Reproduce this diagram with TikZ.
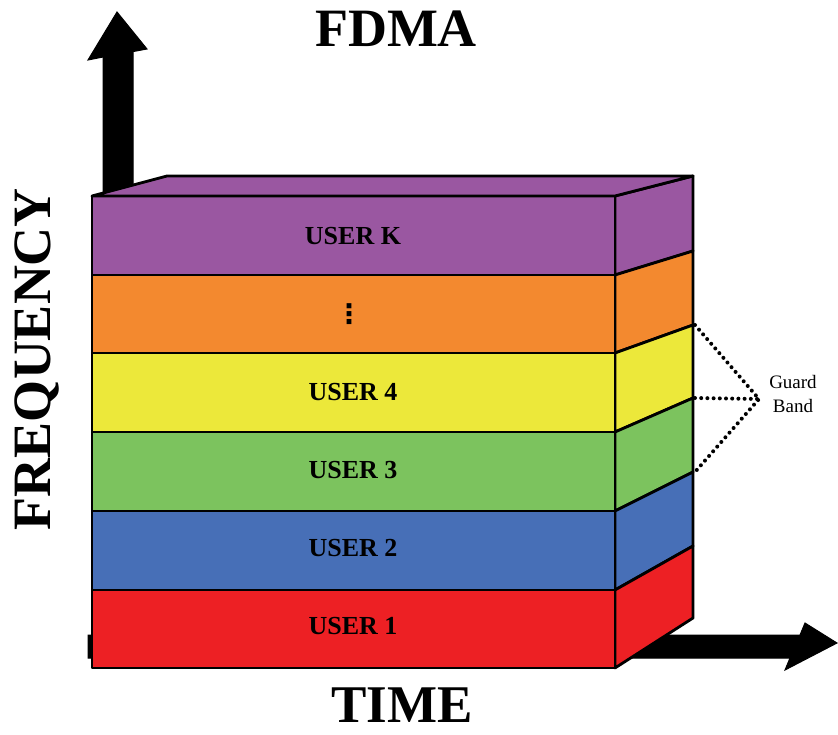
\documentclass[tikz,border=0pt]{standalone}
\usepackage{fontspec}
\setmainfont{Liberation Serif}
\newfontfamily\dotsfont{DejaVu Sans}
\definecolor{layerK}{HTML}{9A57A1}
\definecolor{layerDots}{HTML}{F3892F}
\definecolor{layerFour}{HTML}{ECE83A}
\definecolor{layerThree}{HTML}{7CC35E}
\definecolor{layerTwo}{HTML}{476FB7}
\definecolor{layerOne}{HTML}{ED2024}
\tikzset{
  face/.style={draw=black, line width=2.8pt, line join=round},
  axisarrow/.style={fill=black, draw=black, line width=1pt, line join=miter},
  userlabel/.style={font=\fontsize{26}{28}\selectfont\bfseries, inner sep=0pt},
  title/.style={font=\fontsize{54}{56}\selectfont\bfseries, inner sep=0pt, anchor=base},
  guard/.style={draw=black, line width=4pt, line cap=round, dash pattern=on 0pt off 6.2pt},
}
\begin{document}
\begin{tikzpicture}[x=1pt, y=-1pt]
\useasboundingbox (0,0) rectangle (838,735);

% axis arrows, drawn first so the block hides their tails
\filldraw[axisarrow] (103,200) -- (103,57) -- (88,60) -- (117,12) -- (147,49)
  -- (133,51.6) -- (133,200) -- cycle;
\filldraw[axisarrow] (88,635) -- (800,635) -- (805,623) -- (837,643) -- (785,670)
  -- (790,658) -- (88,658) -- cycle;

% front y-levels and back-edge y-levels of the six bands (top to bottom)
\def\fy{{196,275,353,432,511,590,668}}
\def\by{{176,251,325,398,472,546,618}}

% bands: side face + front face
\foreach \c [count=\i from 0] in {layerK,layerDots,layerFour,layerThree,layerTwo,layerOne}{
  \pgfmathsetmacro\fa{\fy[\i]}
  \pgfmathsetmacro\fb{\fy[\i+1]}
  \pgfmathsetmacro\ba{\by[\i]}
  \pgfmathsetmacro\bb{\by[\i+1]}
  \filldraw[face, fill=\c] (615,\fa) -- (693,\ba) -- (693,\bb) -- (615,\fb) -- cycle;
  \filldraw[face, fill=\c] (92,\fa) rectangle (615,\fb);
}

% top face
\filldraw[face, fill=layerK] (92,196) -- (167,176) -- (693,176) -- (615,196) -- cycle;

% band labels
\node[userlabel] (uk) at (353,236) {USER K};
\node[inner sep=0pt, font=\dotsfont\bfseries\fontsize{27}{27}\selectfont] (ud) at (349,314) {⋮};
\node[userlabel] (u4) at (353,392) {USER 4};
\node[userlabel] (u3) at (353,470) {USER 3};
\node[userlabel] (u2) at (353,548) {USER 2};
\node[userlabel] (u1) at (353,626) {USER 1};

% axis titles
\node[title] (fdma) at (396,47) {FDMA};
\node[title, font=\fontsize{53}{54}\selectfont\bfseries] (time) at (402,722) {TIME};
\node[title, rotate=90] (freq) at (50,359) {FREQUENCY};

% guard band marker
\coordinate (g1) at (695,325);
\coordinate (g2) at (695,398);
\coordinate (g3) at (695,472);
\coordinate (gp) at (759,399);
\draw[guard] (g1) -- (gp) -- (g3);
\draw[guard] (g2) -- (gp);
\node[align=center, font=\fontsize{19}{24}\selectfont, inner sep=0pt] (gb) at (793,394) {Guard\\Band};

\end{tikzpicture}
\end{document}
